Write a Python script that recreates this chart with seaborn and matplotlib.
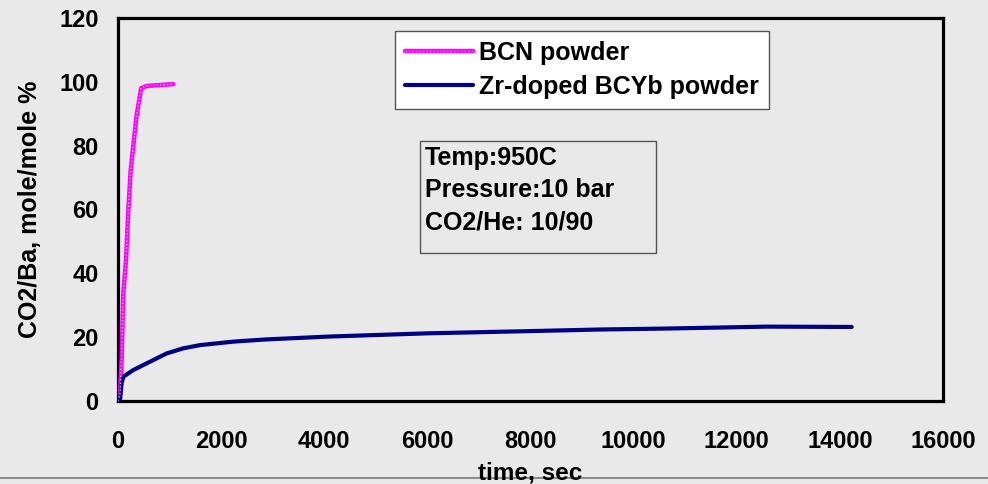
import matplotlib
matplotlib.use("Agg")
import matplotlib.pyplot as plt
from matplotlib.lines import Line2D
from matplotlib.patches import Rectangle
import seaborn as sns
import pandas as pd

# values
bcn_time = [0, 39, 71, 103, 155, 200, 245, 297, 362, 450, 556, 814, 1070]
bcn_ratio = [0, 2.4, 12.8, 33.7, 44, 59.5, 72, 80, 89.5, 98, 98.7, 99, 99.3]

zr_time = [0, 40, 70, 103, 297, 620, 943, 1266, 1589, 2235, 2882, 4109,
           6000, 8000, 9348, 10640, 12580, 14230]
zr_ratio = [0, 0.3, 5.5, 7.6, 9.7, 12.3, 14.9, 16.5, 17.5, 18.6, 19.3, 20.2,
            21.2, 21.9, 22.4, 22.7, 23.3, 23.2]

series_names = ["BCN powder", "Zr-doped BCYb powder"]
x_ticks = [0, 2000, 4000, 6000, 8000, 10000, 12000, 14000, 16000]
y_ticks = [0, 20, 40, 60, 80, 100, 120]
note_lines = ["Temp:950C", "Pressure:10 bar", "CO2/He: 10/90"]

bg = "#e9e9e9"
sns.set_style("white")
plt.rcParams["font.family"] = ["Liberation Sans", "DejaVu Sans"]
plt.rcParams["font.weight"] = "bold"
for k in ["text.color", "axes.labelcolor", "xtick.color", "ytick.color"]:
    plt.rcParams[k] = "black"

fig = plt.figure(figsize=(9.88, 4.84), dpi=100, facecolor=bg)
ax = fig.add_axes([0.1194, 0.1715, 0.835, 0.7913])
ax.set_facecolor(bg)

df_bcn = pd.DataFrame({"time": bcn_time, "ratio": bcn_ratio})
df_zr = pd.DataFrame({"time": zr_time, "ratio": zr_ratio})

sns.lineplot(data=df_bcn, x="time", y="ratio", ax=ax, color="#ff00ff",
             linewidth=3.2, sort=False, zorder=3)
sns.lineplot(data=df_bcn, x="time", y="ratio", ax=ax, color="#ffb3ff",
             linewidth=1.0, linestyle=(0, (1, 1.5)), sort=False, zorder=4)
sns.lineplot(data=df_zr, x="time", y="ratio", ax=ax, color="#000080",
             linewidth=3.0, sort=False, zorder=3)

ax.set_xlim(0, 16000)
ax.set_ylim(0, 120)
ax.set_xticks(x_ticks)
ax.set_yticks(y_ticks)
ax.set_xticklabels([str(t) for t in x_ticks], fontsize=17, fontweight="bold")
ax.set_yticklabels([str(t) for t in y_ticks], fontsize=17, fontweight="bold")
ax.tick_params(axis="x", direction="in", length=7, width=1.6, pad=21)
ax.tick_params(axis="y", direction="in", length=7, width=1.6, pad=14)

for s in ax.spines.values():
    s.set_color("black")
    s.set_linewidth(2.3)

ax.set_xlabel("time, sec", fontsize=17.5, fontweight="bold", labelpad=6)
ax.set_ylabel("CO2/Ba, mole/mole %", fontsize=18, fontweight="bold", labelpad=12)

# legend
h_bcn = (Line2D([], [], color="#ff00ff", lw=3.2),
         Line2D([], [], color="#ffb3ff", lw=1.0, ls=(0, (1, 1.5))))
h_zr = Line2D([], [], color="#000080", lw=3.0)
leg = ax.legend([h_bcn, h_zr], series_names, loc="upper left",
                bbox_to_anchor=(0.336, 0.967), borderaxespad=0,
                frameon=True, fancybox=False, framealpha=1,
                prop={"size": 18, "weight": "bold"},
                handlelength=2.7, handletextpad=0.25, labelspacing=0.42,
                borderpad=0.4)
leg.get_frame().set_facecolor("white")
leg.get_frame().set_edgecolor("#555555")
leg.get_frame().set_linewidth(1.0)

# conditions box
ax.add_patch(Rectangle((0.366, 0.386), 0.286, 0.293, transform=ax.transAxes,
                       facecolor="none", edgecolor="#555555", lw=1.0, zorder=5))
for txt, yy in zip(note_lines, [0.634, 0.551, 0.467]):
    ax.text(0.372, yy, txt, transform=ax.transAxes, fontsize=18,
            fontweight="bold", va="center", ha="left", zorder=6)

# thin frame line near the bottom edge
fig.add_artist(Line2D([0, 1], [1 - 478 / 484, 1 - 478 / 484],
                      transform=fig.transFigure, color="#8c8c8c", lw=1.5,
                      zorder=-1))

fig.savefig("out.png", dpi=100, facecolor=bg)
